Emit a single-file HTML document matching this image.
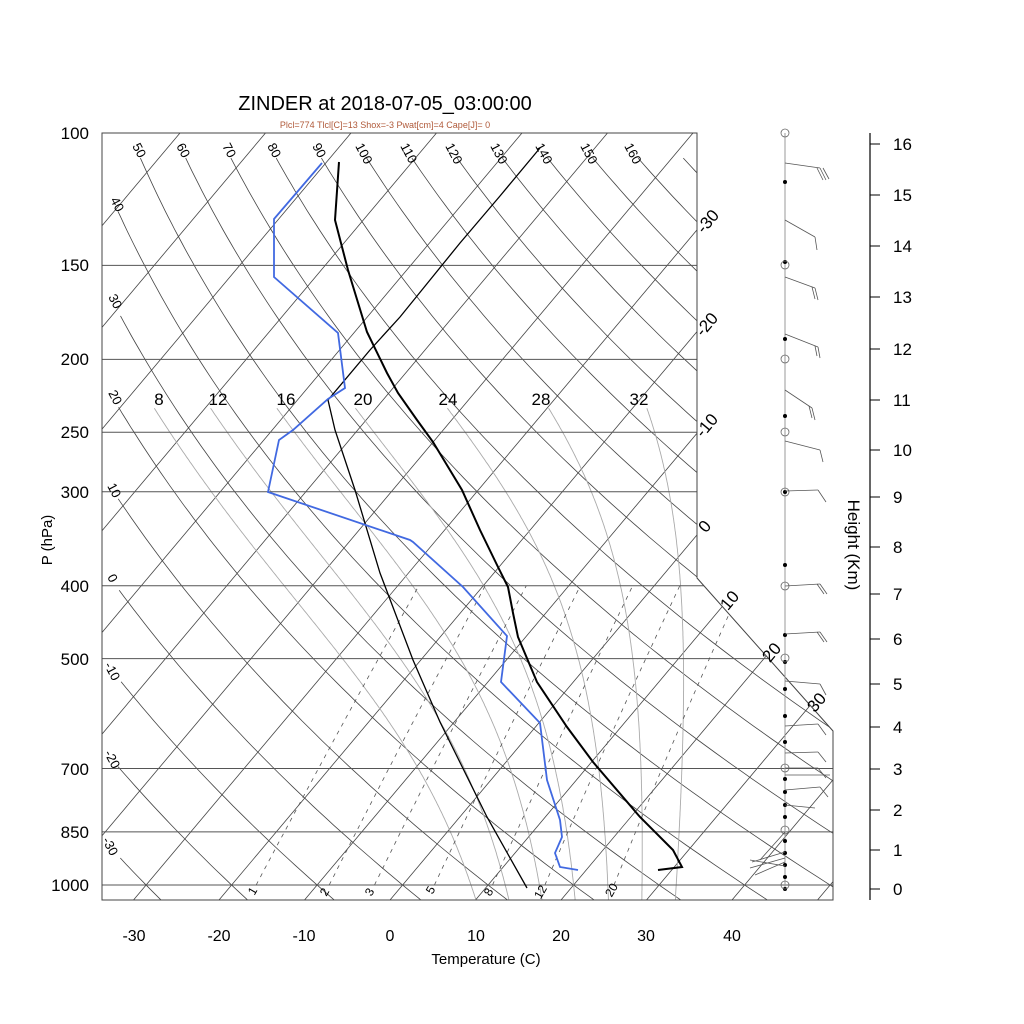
<!DOCTYPE html>
<html><head><meta charset="utf-8"><style>
html,body{margin:0;padding:0;background:#fff;}
svg{display:block;font-family:"Liberation Sans",sans-serif;}
</style></head><body>
<svg id="s" width="1024" height="1024" viewBox="0 0 1024 1024" xmlns="http://www.w3.org/2000/svg">
<defs><clipPath id="cp"><polygon points="102,133 697,133 697,578 833,731 833,900 102,900"/></clipPath></defs>
<g id="bg" clip-path="url(#cp)"></g>
<polygon points="102,133 697,133 697,578 833,731 833,900 102,900" fill="none" stroke="#444" stroke-width="1"/>
<g id="data"></g>
<text x="385" y="110" font-size="20" text-anchor="middle">ZINDER at 2018-07-05_03:00:00</text>
<text x="385" y="128" font-size="9" fill="#b05a3a" text-anchor="middle">Plcl=774 Tlcl[C]=13 Shox=-3 Pwat[cm]=4 Cape[J]= 0</text>
<g font-size="17" text-anchor="end">
<text x="89" y="139">100</text><text x="89" y="271">150</text><text x="89" y="365">200</text>
<text x="89" y="438">250</text><text x="89" y="498">300</text><text x="89" y="592">400</text>
<text x="89" y="665">500</text><text x="89" y="775">700</text><text x="89" y="838">850</text>
<text x="89" y="891">1000</text></g>
<text transform="translate(52,540) rotate(-90)" font-size="15" text-anchor="middle">P (hPa)</text>
<g font-size="16" text-anchor="middle">
<text x="134" y="941">-30</text><text x="219" y="941">-20</text><text x="304" y="941">-10</text>
<text x="390" y="941">0</text><text x="476" y="941">10</text><text x="561" y="941">20</text>
<text x="646" y="941">30</text><text x="732" y="941">40</text></g>
<text x="486" y="964" font-size="15" text-anchor="middle">Temperature (C)</text>
<g font-size="13">
<text transform="translate(132,146) rotate(62)">50</text>
<text transform="translate(176,146) rotate(62)">60</text>
<text transform="translate(222,146) rotate(62)">70</text>
<text transform="translate(267,146) rotate(62)">80</text>
<text transform="translate(312,146) rotate(62)">90</text>
<text transform="translate(355,146) rotate(62)">100</text>
<text transform="translate(400,146) rotate(62)">110</text>
<text transform="translate(445,146) rotate(62)">120</text>
<text transform="translate(490,146) rotate(62)">130</text>
<text transform="translate(535,146) rotate(62)">140</text>
<text transform="translate(580,146) rotate(62)">150</text>
<text transform="translate(624,146) rotate(62)">160</text>
<text transform="translate(110,200) rotate(62)">40</text>
<text transform="translate(108,297) rotate(62)">30</text>
<text transform="translate(108,393) rotate(62)">20</text>
<text transform="translate(107,486) rotate(62)">10</text>
<text transform="translate(107,577) rotate(62)">0</text>
<text transform="translate(104,665) rotate(62)">-10</text>
<text transform="translate(104,753) rotate(62)">-20</text>
<text transform="translate(102,840) rotate(62)">-30</text>
</g>
<g font-size="17" text-anchor="middle">
<text x="159" y="405">8</text><text x="218" y="405">12</text><text x="286" y="405">16</text>
<text x="363" y="405">20</text><text x="448" y="405">24</text><text x="541" y="405">28</text><text x="639" y="405">32</text></g>
<g font-size="17" text-anchor="middle">
<text transform="translate(712,225) rotate(-50)">-30</text>
<text transform="translate(711,328) rotate(-50)">-20</text>
<text transform="translate(711,429) rotate(-50)">-10</text>
<text transform="translate(709,530) rotate(-50)">0</text>
<text transform="translate(734,604) rotate(-50)">10</text>
<text transform="translate(776,656) rotate(-50)">20</text>
<text transform="translate(821,706) rotate(-50)">30</text></g>
<g font-size="12" text-anchor="middle">
<text transform="translate(256,893) rotate(-60)">1</text>
<text transform="translate(328,894) rotate(-60)">2</text>
<text transform="translate(373,894) rotate(-60)">3</text>
<text transform="translate(434,892) rotate(-60)">5</text>
<text transform="translate(492,894) rotate(-60)">8</text>
<text transform="translate(544,894) rotate(-60)">12</text>
<text transform="translate(615,892) rotate(-60)">20</text></g>
<line x1="870" y1="133" x2="870" y2="900" stroke="#000" stroke-width="1.2"/>
<g id="hticks" stroke="#000"></g>
<g font-size="17">
<text x="893" y="150">16</text><text x="893" y="201">15</text><text x="893" y="252">14</text>
<text x="893" y="303">13</text><text x="893" y="355">12</text><text x="893" y="406">11</text>
<text x="893" y="456">10</text><text x="893" y="503">9</text><text x="893" y="553">8</text>
<text x="893" y="600">7</text><text x="893" y="645">6</text><text x="893" y="690">5</text>
<text x="893" y="733">4</text><text x="893" y="775">3</text><text x="893" y="816">2</text>
<text x="893" y="856">1</text><text x="893" y="895">0</text></g>
<text transform="translate(848,545) rotate(90)" font-size="17" text-anchor="middle">Height (Km)</text>
<g id="wind"></g>
<script>
(function(){
var NS="http://www.w3.org/2000/svg";
function X(T,y){return 390+8.55*T+0.841*(900-y);}
function Y(p){return 885+326.6*Math.log(p/1000);}
function el(parent,tag,attrs){var e=document.createElementNS(NS,tag);for(var k in attrs)e.setAttribute(k,attrs[k]);parent.appendChild(e);return e;}
var bg=document.getElementById('bg');
function pl(parent,pts,attrs){attrs.points=pts.map(function(a){return a[0].toFixed(1)+','+a[1].toFixed(1)}).join(' ');attrs.fill='none';return el(parent,'polyline',attrs);}
for(var T=-160;T<=60;T+=10){var y1=900,y2=133;pl(bg,[[X(T,y1),y1],[X(T,y2),y2]],{stroke:'#444','stroke-width':0.8});}
for(var th=-50;th<=260;th+=10){var pts=[];var pstart=th>=45?108:100;for(var lp=Math.log(pstart);lp<=Math.log(1060);lp+=0.02){var p=Math.exp(lp);var TK=(th+273.15)*Math.pow(p/1000,0.286);var y=Y(p);var x=X(TK-273.15,y);if(th<45&&x<118)continue;pts.push([x,y]);}if(pts.length>1)pl(bg,pts,{stroke:'#444','stroke-width':0.8});}
function es(TK){return 6.112*Math.exp(17.67*(TK-273.15)/(TK-29.65));}
function dTdlnp(TK,p){var e=es(TK);var rs=0.622*e/(p-e);return (287*TK+2.5e6*rs)/(1004+2.5e6*2.5e6*rs*0.622/(287*TK*TK));}
[8,12,16,20,24,28,32].forEach(function(tw){var TK=tw+273.15,p=1000,h=-0.005;var up=[];
 while(p>232){up.push([X(TK-273.15,Y(p)),Y(p)]);var k1=dTdlnp(TK,p);var p2=p*Math.exp(h);var k2=dTdlnp(TK+k1*h,p2);TK+=0.5*(k1+k2)*h;p=p2;}
 TK=tw+273.15;p=1000;var dn=[];while(p<1060){var k1=dTdlnp(TK,p);var p2=p*Math.exp(0.005);TK+=k1*0.005;p=p2;dn.push([X(TK-273.15,Y(p)),Y(p)]);}
 pl(bg,dn.reverse().concat(up),{stroke:'#aaa','stroke-width':0.9});});
[1,2,3,5,8,12,20].forEach(function(w){var pts=[];for(var p=1000;p>=400;p-=10){var e=w*p/(622+w);var l=Math.log(e/6.112);var Td=243.5*l/(17.67-l);pts.push([X(Td,Y(p)),Y(p)]);}pl(bg,pts,{stroke:'#555','stroke-width':0.8,'stroke-dasharray':'4,5'});});
[100,150,200,250,300,400,500,700,850,1000].forEach(function(p){var y=Y(p);el(bg,'line',{x1:102,y1:y,x2:840,y2:y,stroke:'#555','stroke-width':1});});
var d=document.getElementById('data');
pl(d,[[527,888],[487,817],[440,722],[413,660],[380,573],[355,490],[335,430],[328,400],[370,350],[400,317],[430,280],[460,243],[500,196],[540,148]],{stroke:'#000','stroke-width':1.3});
pl(d,[[322,163],[274,219],[274,277],[338,333],[345,388],[328,399],[293,430],[279,440],[268,492],[410,540],[413,542],[463,587],[507,636],[501,682],[540,723],[547,780],[560,820],[562,837],[555,853],[560,867],[578,870]],{stroke:'#4169e1','stroke-width':1.8});
pl(d,[[339,162],[335,220],[348,270],[367,332],[387,373],[398,393],[417,420],[433,442],[462,490],[480,530],[498,567],[508,587],[513,613],[518,637],[537,682],[567,727],[593,762],[640,817],[673,850],[682,867],[658,870]],{stroke:'#000','stroke-width':2});
var ht=document.getElementById('hticks');
[144,195,246,297,349,400,450,497,547,594,639,684,727,769,810,850,889].forEach(function(y){el(ht,'line',{x1:870,y1:y,x2:880,y2:y,'stroke-width':1});});
var w=document.getElementById('wind');
el(w,'line',{x1:785,y1:133,x2:785,y2:890,stroke:'#999','stroke-width':1});
[182,262,339,416,492,565,635,662,689,716,742,779,792,805,817,841,853,865,877,889].forEach(function(y){el(w,'circle',{cx:785,cy:y,r:2,fill:'#000'});});
[133,265,359,432,492,586,658,768,830,885].forEach(function(y){el(w,'circle',{cx:785,cy:y,r:4,fill:'none',stroke:'#666','stroke-width':0.8});});
var barbs=[[163,820,168,[[820,168,826,180],[823,168,829,179],[817,168,823,180]]],[220,815,237,[[815,237,817,250]]],[277,815,288,[[815,288,818,300],[812,287,815,299]]],[334,818,347,[[818,347,820,358],[815,346,817,356]]],[390,812,408,[[812,408,815,420],[809,406,812,418]]],[441,820,450,[[820,450,823,462]]],[491,818,490,[[818,490,826,502]]],[586,820,584,[[820,584,827,594],[817,584,824,594]]],[634,820,632,[[820,632,827,642],[817,632,824,642]]],[681,820,684,[[820,684,826,695]]],[726,818,724,[[818,724,826,735]]],[753,818,752,[[818,752,826,762]]],[768,818,768,[[818,768,826,778]]],[775,830,775,[]],[790,820,787,[[820,787,828,797]]],[805,815,808,[]],[832,760,860,[]],[852,752,862,[]],[858,750,868,[]],[862,755,875,[]],[866,750,860,[]]];
barbs.forEach(function(b){el(w,'line',{x1:785,y1:b[0],x2:b[1],y2:b[2],stroke:'#555','stroke-width':0.8});b[3].forEach(function(f){el(w,'line',{x1:f[0],y1:f[1],x2:f[2],y2:f[3],stroke:'#555','stroke-width':0.8});});});
})();
</script>
</svg>
</body></html>
